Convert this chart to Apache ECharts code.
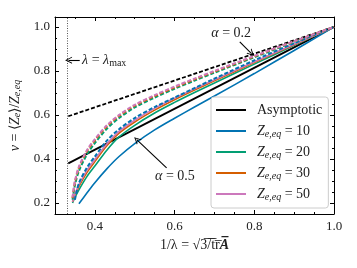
<!DOCTYPE html>
<html><head><meta charset="utf-8">
<script src="https://cdn.jsdelivr.net/npm/echarts@6/dist/echarts.min.js"></script>
<style>html,body{margin:0;padding:0;background:#fff}#c{width:357px;height:268px}</style>
</head><body><div id="c"></div>
<script>
// ---- data ----
const xs = [0.344, 0.35, 0.36, 0.38, 0.40, 0.43, 0.46, 0.50, 0.55, 0.60, 0.65, 0.70, 0.80, 0.90, 1.0];
const asymX = [0.3333, 1.0];
const asymA05 = [0.38, 1.0];
const asymA02 = [0.594, 1.0];
// alpha = 0.5 (solid)
const z10a05 = [null, null, 0.197, 0.245, 0.292, 0.355, 0.41, 0.47, 0.532, 0.585, 0.636, 0.686, 0.788, 0.893, 1.0];
const z20a05 = [0.20, 0.225, 0.26, 0.32, 0.368, 0.44, 0.499, 0.553, 0.609, 0.657, 0.702, 0.745, 0.831, 0.916, 1.0];
const z30a05 = [0.205, 0.235, 0.275, 0.338, 0.388, 0.46, 0.516, 0.568, 0.622, 0.669, 0.713, 0.755, 0.838, 0.919, 1.0];
const z50a05 = [0.205, 0.24, 0.283, 0.348, 0.398, 0.468, 0.524, 0.576, 0.63, 0.676, 0.719, 0.76, 0.842, 0.921, 1.0];
// alpha = 0.2 (dashed)
const z10a02 = [null, 0.215, 0.29, 0.36, 0.411, 0.483, 0.534, 0.586, 0.636, 0.679, 0.722, 0.765, 0.848, 0.926, 1.0];
const z20a02 = [0.215, 0.28, 0.345, 0.42, 0.472, 0.537, 0.585, 0.634, 0.679, 0.719, 0.756, 0.792, 0.862, 0.932, 1.0];
const z30a02 = [0.222, 0.295, 0.36, 0.435, 0.485, 0.549, 0.595, 0.642, 0.686, 0.725, 0.762, 0.797, 0.866, 0.934, 1.0];
const z50a02 = [0.225, 0.30, 0.365, 0.44, 0.49, 0.553, 0.599, 0.646, 0.69, 0.729, 0.765, 0.80, 0.868, 0.935, 1.0];
const lambdaMax = 0.3333;
const xTicks = [0.4, 0.6, 0.8, 1.0];
const xMinor = [0.35, 0.45, 0.5, 0.55, 0.65, 0.7, 0.75, 0.85, 0.9, 0.95];
const yTicks = [0.2, 0.4, 0.6, 0.8, 1.0];
const yMinor = [0.25, 0.3, 0.35, 0.45, 0.5, 0.55, 0.65, 0.7, 0.75, 0.85, 0.9, 0.95];
const xRange = [0.3, 1.0];
const yRange = [0.15, 1.045];
const legendNames = ['Asymptotic', 'Z10', 'Z20', 'Z30', 'Z50'];
const legendLabels = {Z10: '10', Z20: '20', Z30: '30', Z50: '50'};
// annotations [x, y] in data units
const a02Text = [0.742, 0.971];
const a02Arrow = [[0.7636, 0.932], [0.793, 0.879]];
const a05Text = [0.601, 0.319];
const a05Arrow = [[0.58, 0.36], [0.505, 0.488]];
const lmText = [0.368, 0.849];
const lmArrow = [[0.362, 0.849], [0.334, 0.849]];

// ---- chart ----
const FONT = 'Liberation Serif';
const C = {blue: '#0173B2', green: '#029E73', orange: '#D55E00', pink: '#CC78BC', black: '#000'};
const pair = (ys) => xs.map((x, i) => [x, ys[i]]).filter(p => p[1] !== null);
const rich = {
  i: {fontFamily: FONT, fontStyle: 'italic', fontSize: 14, color: '#222'},
  n: {fontFamily: FONT, fontSize: 14, color: '#222'},
  s: {fontFamily: FONT, fontStyle: 'italic', fontSize: 10, color: '#222', padding: [6, 0, 0, 0]},
  su: {fontFamily: FONT, fontSize: 10, color: '#222', padding: [6, 0, 0, 0]},
  b: {fontFamily: FONT, fontStyle: 'italic', fontWeight: 'bold', fontSize: 14, color: '#222'}
};
const arrowSym = 'path://M5,0 L10,10 L8.6,10 L5,2.8 L1.4,10 L0,10 Z';

function xAx(pos, ticks, len, labels) {
  return {
    type: 'value', position: pos, min: xRange[0], max: xRange[1],
    axisLine: {show: labels, lineStyle: {color: '#000', width: 1}},
    splitLine: {show: false},
    axisTick: {show: true, inside: true, length: len, customValues: ticks, lineStyle: {color: '#000', width: 1}},
    axisLabel: labels ? {show: true, customValues: xTicks, formatter: v => v.toFixed(1), fontFamily: FONT, fontSize: 13, color: '#222', margin: 6} : {show: false}
  };
}
function yAx(pos, ticks, len, labels) {
  return {
    type: 'value', position: pos, min: yRange[0], max: yRange[1],
    axisLine: {show: labels, onZero: false, lineStyle: {color: '#000', width: 1}},
    splitLine: {show: false},
    axisTick: {show: true, inside: true, length: len, customValues: ticks, lineStyle: {color: '#000', width: 1}},
    axisLabel: labels ? {show: true, customValues: yTicks, formatter: v => v.toFixed(1), fontFamily: FONT, fontSize: 13, color: '#222', margin: 5} : {show: false}
  };
}
const xAxes = [xAx('bottom', xTicks, 4, true), xAx('bottom', xMinor, 2, false), xAx('top', xTicks, 4, true), xAx('top', xMinor, 2, false)];
xAxes[2].axisLabel = {show: false};
xAxes[0].name = '1/λ = √3̅/̅t̅r̅{b|A̅}';
xAxes[0].nameLocation = 'middle';
xAxes[0].nameGap = 14;
xAxes[0].nameTextStyle = {fontFamily: FONT, fontSize: 14, color: '#222', rich: rich};
const yAxes = [yAx('left', yTicks, 4, true), yAx('left', yMinor, 2, false), yAx('right', yTicks, 4, true), yAx('right', yMinor, 2, false)];
yAxes[2].axisLabel = {show: false};
yAxes[0].name = '{i|ν} = ⟨{i|Z}{s|e}⟩/{i|Z}{s|e,eq}';
yAxes[0].nameLocation = 'middle';
yAxes[0].nameRotate = 90;
yAxes[0].nameGap = 27;
yAxes[0].nameTextStyle = {fontFamily: FONT, fontSize: 14, color: '#222', rich: rich};

function line(name, ys, color, dashed, w) {
  return {
    name: name, type: 'line', data: pair(ys), symbol: 'none', smooth: 0.3, silent: true,
    lineStyle: {color: color, width: w, type: dashed ? [4, 2] : 'solid', cap: 'butt'},
    itemStyle: {color: color}
  };
}
const series = [
  {name: 'Asymptotic', type: 'line', data: asymX.map((x, i) => [x, asymA05[i]]), symbol: 'none', silent: true,
   lineStyle: {color: '#000', width: 1.8}, itemStyle: {color: '#000'}},
  line('Z10', z10a05, C.blue, false, 1.6),
  line('Z20', z20a05, C.green, false, 1.6),
  line('Z30', z30a05, C.orange, false, 1.6),
  line('Z50', z50a05, C.pink, false, 1.6),
  {name: 'Asymptotic 0.2', type: 'line', data: asymX.map((x, i) => [x, asymA02[i]]), symbol: 'none', silent: true,
   lineStyle: {color: '#000', width: 1.8, type: [4, 2]}, itemStyle: {color: '#000'}},
  line('Z10 0.2', z10a02, C.blue, true, 2),
  line('Z20 0.2', z20a02, C.green, true, 2),
  line('Z30 0.2', z30a02, C.orange, true, 2),
  line('Z50 0.2', z50a02, C.pink, true, 2),
  {name: 'lmax', type: 'line', data: [], silent: true,
   markLine: {silent: true, animation: false, symbol: ['none', 'none'], label: {show: false},
     lineStyle: {type: [1, 1.5], color: '#555', width: 1},
     data: [{xAxis: lambdaMax}]}
  },
  {name: 'annot', type: 'line', data: [], silent: true,
   markLine: {silent: true, animation: false, symbol: ['none', arrowSym], symbolSize: [7, 7],
     label: {show: false}, lineStyle: {color: '#000', width: 1.1, type: 'solid'},
     data: [
       [{coord: a02Arrow[0]}, {coord: a02Arrow[1]}],
       [{coord: a05Arrow[0]}, {coord: a05Arrow[1]}],
       [{coord: lmArrow[0]}, {coord: lmArrow[1]}]
     ]},
   markPoint: {silent: true, animation: false, symbol: 'circle', symbolSize: 0,
     data: [
       {coord: a02Text, label: {show: true, position: 'inside', formatter: '{i|α}{n| = 0.2}', rich: rich}},
       {coord: a05Text, label: {show: true, position: 'inside', formatter: '{i|α}{n| = 0.5}', rich: rich}},
       {coord: lmText, label: {show: true, position: 'right', distance: 0, formatter: '{i|λ}{n| = }{i|λ}{su|max}', rich: rich}}
     ]}
  }
];

const chart = echarts.init(document.getElementById('c'), null, {renderer: 'canvas'});
chart.setOption({
  animation: false,
  backgroundColor: '#fff',
  grid: {left: 55, right: 23, top: 17, bottom: 54, containLabel: false, outerBoundsMode: 'none'},
  xAxis: xAxes.map(a => Object.assign(a, {gridIndex: 0})),
  yAxis: yAxes.map(a => Object.assign(a, {gridIndex: 0})),
  legend: {
    data: legendNames, orient: 'vertical', left: 211, top: 97,
    icon: 'path://M0,0 H30 V2 H0 Z', itemWidth: 30, itemHeight: 2, itemGap: 5,
    padding: [5, 6, 6, 5],
    backgroundColor: 'rgba(255,255,255,0.85)', borderColor: '#ccc', borderWidth: 1, borderRadius: 3,
    selectedMode: false,
    textStyle: {fontFamily: FONT, fontSize: 14, color: '#222', lineHeight: 16, padding: [0, 0, 0, 6], rich: rich},
    formatter: function (name) {
      if (name === 'Asymptotic') return '{n|Asymptotic}';
      return '{i|Z}{s|e,eq}{n| = ' + legendLabels[name] + '}';
    }
  },
  series: series
});
</script></body></html>
